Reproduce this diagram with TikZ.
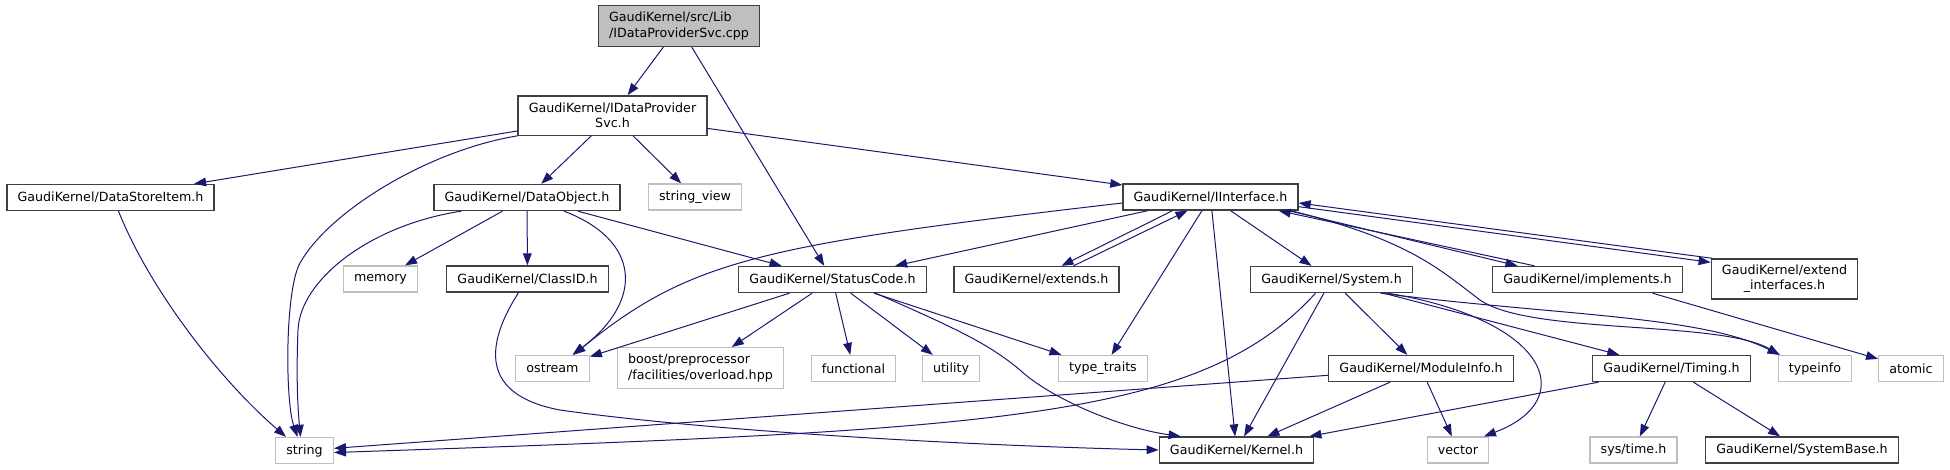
\documentclass[tikz,border=0pt]{standalone}
\usepackage{fontspec}
\setmainfont{DejaVu Sans}
\usetikzlibrary{arrows.meta}
\usetikzlibrary{positioning}
\usetikzlibrary{calc}

\definecolor{edgeblue}{HTML}{191970}
\definecolor{boxgrey}{HTML}{404040}
\definecolor{extgrey}{HTML}{BFBFBF}

\begin{document}
\begin{tikzpicture}[x=0.75pt, y=-0.75pt,
    hdr/.style={draw=boxgrey, line width=1pt, fill=white, inner xsep=8pt, inner ysep=1pt,
                minimum height=19.5pt, font=\fontsize{9.5}{11.5}\selectfont},
    extern/.style={hdr, draw=extgrey},
    mainfile/.style={hdr, fill=extgrey, align=left, minimum height=30.5pt},
    dep/.style={edgeblue, line width=0.75pt, -{Triangle[length=9pt, width=6.5pt]}}]

        \useasboundingbox (0,0) rectangle (1950,469);

        % the source file and its header
        \node[mainfile] (cpp) at (679,26) {GaudiKernel/src/Lib\\/IDataProviderSvc.cpp};
        \node[hdr, align=center, minimum height=29.5pt] (svc) at (612.5,115.5) {GaudiKernel/IDataProvider\\Svc.h};

        % third row
        \node[hdr] (dsitem) at (110.5,197.5) {GaudiKernel/DataStoreItem.h};
        \node[hdr] (dobj) at (527,197.5) {GaudiKernel/DataObject.h};
        \node[extern] (strview) at (695,197) {string\_view};
        \node[hdr] (iface) at (1210.5,197) {GaudiKernel/IInterface.h};

        % fourth row
        \node[extern] (memory) at (380.5,279) {memory};
        \node[hdr] (classid) at (527.5,279) {GaudiKernel/ClassID.h};
        \node[hdr] (status) at (832.5,279.5) {GaudiKernel/StatusCode.h};
        \node[hdr] (extends) at (1036.5,279.5) {GaudiKernel/extends.h};
        \node[hdr] (system) at (1331.5,279.5) {GaudiKernel/System.h};
        \node[hdr] (impl) at (1587.5,279.5) {GaudiKernel/implements.h};
        \node[hdr, align=center, minimum height=30pt] (extif) at (1784.5,279) {GaudiKernel/extend\\\_interfaces.h};

        % fifth row
        \node[extern] (ostream) at (552.5,368.5) {ostream};
        \node[extern, align=left, minimum height=30.5pt] (boostpp) at (700.5,368) {boost/preprocessor\\/facilities/overload.hpp};
        \node[extern] (functional) at (853.5,368.5) {functional};
        \node[extern] (utility) at (951,368.5) {utility};
        \node[extern] (typetraits) at (1103,368.5) {type\_traits};
        \node[hdr] (modinfo) at (1421,368.5) {GaudiKernel/ModuleInfo.h};
        \node[hdr] (timing) at (1671.5,368.5) {GaudiKernel/Timing.h};
        \node[extern] (typeinfo) at (1815,368.5) {typeinfo};
        \node[extern] (atomic) at (1911,368.5) {atomic};

        % bottom row
        \node[extern] (string) at (304.5,450.5) {string};
        \node[hdr] (kernel) at (1236.5,450) {GaudiKernel/Kernel.h};
        \node[extern] (vector) at (1458,450) {vector};
        \node[extern] (systime) at (1633.5,450) {sys/time.h};
        \node[hdr] (sysbase) at (1802,450) {GaudiKernel/SystemBase.h};

        % straight includes
        \draw[dep] (cpp) -- (svc);
        \draw[dep] (cpp) -- (status);
        \draw[dep] (svc) -- (dsitem);
        \draw[dep] (svc) -- (dobj);
        \draw[dep] (svc) -- (strview);
        \draw[dep] (svc) -- (iface);
        \draw[dep] (dobj) -- (memory);
        \draw[dep] (dobj) -- (classid);
        \draw[dep] (dobj) -- (status);
        \draw[dep] (status) -- (ostream);
        \draw[dep] (status) -- (boostpp);
        \draw[dep] (status) -- (functional);
        \draw[dep] (status) -- (utility);
        \draw[dep] (status) -- (typetraits);
        \draw[dep] (iface) -- (status);
        \draw[dep] (iface) -- (typetraits);
        \draw[dep] (iface) -- (kernel);
        \draw[dep] (iface) -- (system);
        \draw[dep] (system) -- (kernel);
        \draw[dep] (system) -- (modinfo);
        \draw[dep] (system) -- (timing);
        \draw[dep] (modinfo) -- (string);
        \draw[dep] (modinfo) -- (kernel);
        \draw[dep] (modinfo) -- (vector);
        \draw[dep] (timing) -- (kernel);
        \draw[dep] (timing) -- (systime);
        \draw[dep] (timing) -- (sysbase);
        \draw[dep] ($(impl.south)+(65,0)$) -- (atomic);

        % both ways between IInterface.h and its mixins
        \draw[dep] ($(iface.south)+(-38,0)$) -- ($(extends.north)+(25,0)$);
        \draw[dep] ($(extends.north)+(37,0)$) -- ($(iface.south)+(-23,0)$);
        \draw[dep] ($(iface.south east)+(-10,0)$) -- ($(impl.north)+(-70,0)$);
        \draw[dep] ($(impl.north)+(-53,0)$) -- ($(iface.south east)+(-20,0)$);
        \draw[dep] ($(iface.south east)+(0,-4)$) -- ($(extif.north west)+(0,4)$);
        \draw[dep] ($(extif.north west)+(2,0)$) -- ($(iface.east)+(0,6)$);

        % curved includes
        \draw[dep] (svc.south west) .. controls (430,150) and (330,210) .. (300,263)
                   .. controls (285,290) and (285,400) .. ($(string.north)+(-7,0)$);
        \draw[dep] ($(dobj.south west)+(28,0)$) .. controls (370,225) and (300,280) .. (298,330)
                   .. controls (296,380) and (298,410) .. ($(string.north)+(-4,0)$);
        \draw[dep] ($(dsitem.south)+(8,0)$) .. controls (150,290) and (220,380) .. ($(string.north west)+(11,0)$);
        \draw[dep] ($(classid.south)+(-9,0)$) .. controls (485,345) and (480,395) .. (560,410)
                   .. controls (700,430) and (950,445) .. (kernel.west);
        \draw[dep] ($(dobj.south)+(37,0)$) .. controls (640,240) and (645,300) .. ($(ostream.north)+(20,0)$);
        \draw[dep] ($(iface.west)+(0,6)$) .. controls (760,245) and (690,260) .. ($(ostream.north)+(21,0)$);
        \draw[dep] ($(status.south)+(43,0)$) .. controls (960,330) and (990,345) .. (1020,370)
                   .. controls (1050,398) and (1120,428) .. ($(kernel.north west)+(22,0)$);
        \draw[dep] ($(iface.south east)+(-8,0)$) .. controls (1410,240) and (1440,270) .. (1480,300)
                   .. controls (1530,335) and (1720,320) .. ($(typeinfo.north west)+(2,0)$);
        \draw[dep] ($(system.south)+(49,0)$) .. controls (1550,315) and (1700,315) .. ($(typeinfo.north west)+(2,0)$);
        \draw[dep] ($(system.south)+(56,0)$) .. controls (1550,320) and (1580,400) .. ($(vector.north)+(26,0)$);
        \draw[dep] ($(system.south)+(-16,0)$) .. controls (1200,420) and (1000,430) .. ($(string.east)+(0,2)$);

\end{tikzpicture}
\end{document}
